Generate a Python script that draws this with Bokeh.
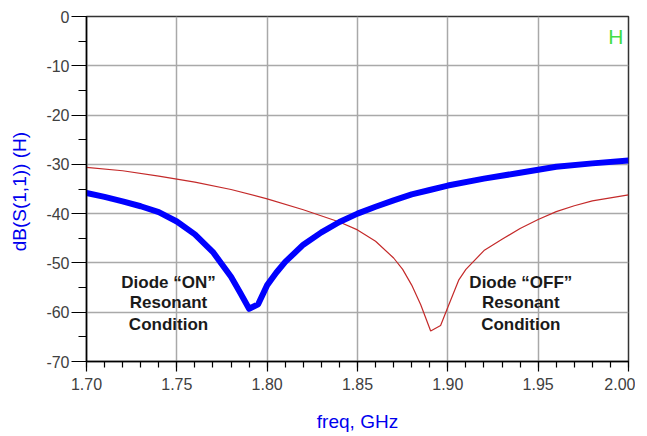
from bokeh.plotting import figure
from bokeh.models import Range1d, FixedTicker, ColumnDataSource
from bokeh.core.properties import value
from bokeh.embed import file_html
from bokeh.resources import INLINE

# Diode "ON" (blue, thick)
freq_on = [1.70, 1.71, 1.72, 1.73, 1.74, 1.75, 1.76, 1.77, 1.78, 1.785, 1.790,
           1.795, 1.800, 1.805, 1.81, 1.82, 1.83, 1.84, 1.85, 1.86, 1.87, 1.88,
           1.89, 1.90, 1.92, 1.94, 1.95, 1.96, 1.98, 2.00]
db_on = [-35.8, -36.6, -37.5, -38.5, -39.7, -41.6, -44.2, -47.8, -52.8, -56.0, -59.3,
         -58.4, -54.5, -52.0, -49.8, -46.3, -43.8, -41.7, -40.0, -38.6, -37.3, -36.1,
         -35.2, -34.3, -32.9, -31.7, -31.1, -30.5, -29.8, -29.2]

# Diode "OFF" (red, thin)
freq_off = [1.70, 1.72, 1.74, 1.75, 1.76, 1.78, 1.80, 1.82, 1.84, 1.85, 1.86, 1.87,
            1.875, 1.880, 1.885, 1.8905, 1.896, 1.900, 1.906, 1.91, 1.92, 1.93, 1.94,
            1.95, 1.96, 1.97, 1.98, 1.99, 2.00]
db_off = [-30.6, -31.3, -32.4, -33.0, -33.6, -35.1, -37.0, -39.2, -41.7, -43.3, -45.6, -49.0,
          -51.3, -54.5, -58.5, -63.8, -62.7, -59.0, -53.5, -51.3, -47.5, -45.2, -43.0,
          -41.2, -39.6, -38.4, -37.4, -36.8, -36.2]

x_ticks = [1.70, 1.75, 1.80, 1.85, 1.90, 1.95, 2.00]
x_tick_labels = ["1.70", "1.75", "1.80", "1.85", "1.90", "1.95", "2.00"]
y_ticks = [0, -10, -20, -30, -40, -50, -60, -70]
y_tick_labels = ["0", "-10", "-20", "-30", "-40", "-50", "-60", "-70"]

note_text = ["Diode \u201cON\u201d", "Resonant", "Condition",
             "Diode \u201cOFF\u201d", "Resonant", "Condition"]
note_x = [1.7454, 1.7454, 1.7454, 1.9404, 1.9404, 1.9404]
note_y = [-54.0, -58.1, -62.4, -54.0, -58.1, -62.4]

FONT = "Liberation Sans"
BLUE = "#0000ee"

p = figure(frame_width=542, frame_height=345, output_backend="svg", toolbar_location=None,
           x_range=Range1d(1.70, 2.00), y_range=Range1d(-70, 0),
           min_border_left=86, min_border_right=7, min_border_top=16, min_border_bottom=60)

p.outline_line_color = "#333333"
p.outline_line_width = 1.5
p.background_fill_color = "white"
p.border_fill_color = "white"

p.xgrid.ticker = FixedTicker(ticks=x_ticks)
p.ygrid.ticker = FixedTicker(ticks=y_ticks)
for g in (p.xgrid, p.ygrid):
    g.grid_line_color = "#a9a9a9"
    g.grid_line_width = 1.5

p.xaxis.ticker = FixedTicker(ticks=x_ticks, minor_ticks=[1.70 + 0.01 * i for i in range(31)])
p.xaxis.major_label_overrides = {t: l for t, l in zip(x_ticks, x_tick_labels)}
p.yaxis.ticker = FixedTicker(ticks=y_ticks, minor_ticks=[-5 * i for i in range(15)])
p.yaxis.major_label_overrides = {t: l for t, l in zip(y_ticks, y_tick_labels)}

for ax in (p.xaxis, p.yaxis):
    ax.axis_line_color = "black"
    ax.axis_line_width = 1.5
    ax.major_tick_line_color = "black"
    ax.minor_tick_line_color = "black"
    ax.major_tick_line_width = 1.2
    ax.minor_tick_line_width = 1.2
    ax.major_tick_in = 0
    ax.minor_tick_in = 0
    ax.major_label_text_font = FONT
    ax.major_label_text_font_size = "16px"
    ax.major_label_text_color = "#404040"
    ax.axis_label_text_font = FONT
    ax.axis_label_text_font_size = "19px"
    ax.axis_label_text_color = BLUE
    ax.axis_label_text_font_style = "normal"

p.xaxis.major_tick_out = 10
p.xaxis.minor_tick_out = 6
p.xaxis.major_label_standoff = 6
p.xaxis.axis_label = "freq, GHz"
p.xaxis.axis_label_standoff = 18

p.yaxis.major_tick_out = 15
p.yaxis.minor_tick_out = 8
p.yaxis.major_label_standoff = 2
p.yaxis.axis_label = "dB(S(1,1))  (H)"
p.yaxis.axis_label_standoff = 13

p.line(freq_off, db_off, line_color="#c42a2a", line_width=1.2)
p.line(freq_on, db_on, line_color="#0000ff", line_width=6, line_join="round")

src = ColumnDataSource(dict(x=note_x, y=note_y, t=note_text))
p.text(x="x", y="y", text="t", source=src, text_font=value(FONT),
       text_font_size="17px", text_font_style="bold", text_color="#1a1a1a",
       text_align="center", text_baseline="middle")

p.text(x=[1.993], y=[-4.1], text=["H"], text_font=value(FONT), text_font_size="21px",
       text_color="#44dd44", text_align="center", text_baseline="middle")

open("out.html", "w").write(file_html(p, INLINE))
